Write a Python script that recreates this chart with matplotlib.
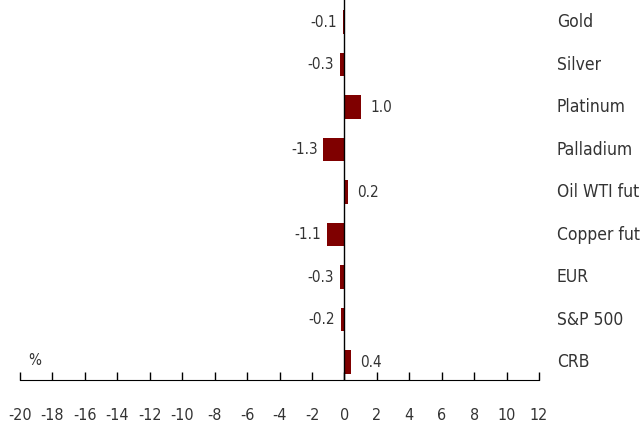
import matplotlib
matplotlib.use("Agg")
import matplotlib.pyplot as plt
import numpy as np

plt.rcParams['font.family'] = ['DejaVu Sans']
plt.rcParams['font.stretch'] = 'condensed'

categories = ['Gold', 'Silver', 'Platinum', 'Palladium', 'Oil WTI fut',
              'Copper fut', 'EUR', 'S&P 500', 'CRB']
values = [-0.1, -0.3, 1.0, -1.3, 0.2, -1.1, -0.3, -0.2, 0.4]
xticks = list(range(-20, 13, 2))

textcol = '#333333'
barcol = '#7f0000'

fig = plt.figure(figsize=(6.44, 4.23), dpi=100)
ax = fig.add_axes([20/644, 1 - 380/423, (539-20)/644, 380/423])

pos = np.arange(len(categories))
ax.barh(pos, values, height=0.55, color=barcol)
ax.axvline(0, color='black', lw=1)

# value labels beside the bars, names to the right of the axes
for p, v, c in zip(pos, values, categories):
    if v >= 0:
        ax.text(v + 0.6, p, '%.1f' % v, va='center', ha='left', fontsize=11, color=textcol)
    else:
        ax.text(v - 0.35, p, '%.1f' % v, va='center', ha='right', fontsize=11, color=textcol)
    ax.text(13.1, p, c, va='center', ha='left', fontsize=12.5, color=textcol)

ax.text(-19.5, 7.95, '%', va='center', ha='left', fontsize=11, color=textcol)

ax.set_xlim(-20, 12)
ax.set_ylim(8.42, -0.52)
ax.set_xticks(xticks)
ax.set_xticklabels([str(t) for t in xticks])
ax.set_yticks([])
for s in ['top', 'right', 'left']:
    ax.spines[s].set_visible(False)
ax.spines['bottom'].set_color('black')
ax.tick_params(axis='x', direction='in', length=6, width=1, pad=20,
               labelsize=11.5, labelcolor=textcol)

fig.savefig('out.png', dpi=100)
